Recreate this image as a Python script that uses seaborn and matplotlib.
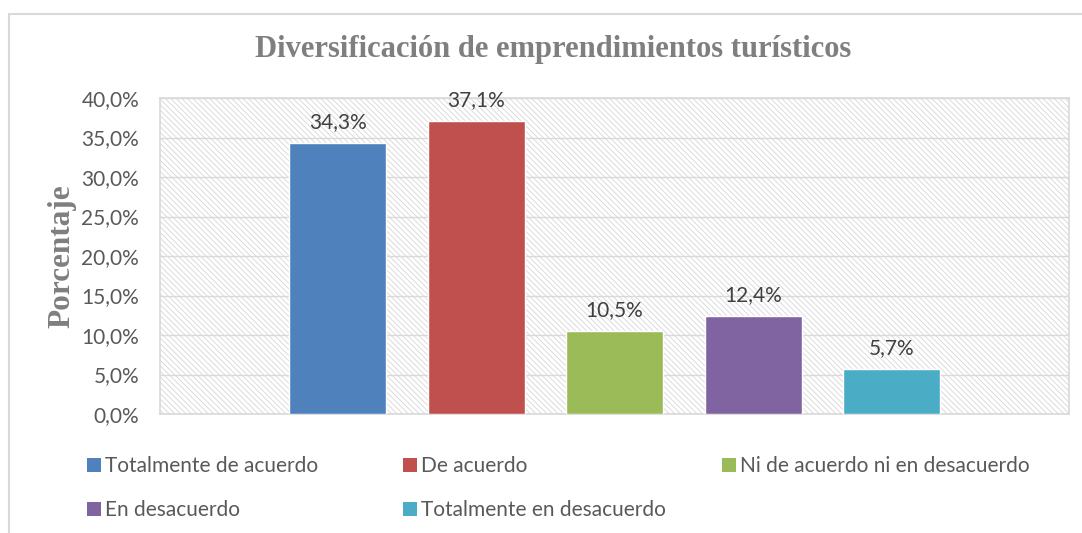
import matplotlib
matplotlib.use("Agg")
import matplotlib.pyplot as plt
import seaborn as sns
from matplotlib.patches import Patch, Rectangle
from matplotlib.ticker import FuncFormatter, MultipleLocator

# --- DATA ---
categories = ["Totalmente de acuerdo", "De acuerdo", "Ni de acuerdo ni en desacuerdo",
              "En desacuerdo", "Totalmente en desacuerdo"]
values = [34.3, 37.1, 10.5, 12.4, 5.7]
colors = ["#4F81BD", "#C0504D", "#9BBB59", "#8064A2", "#4BACC6"]
title = "Diversificación de emprendimientos turísticos"
ylabel = "Porcentaje"

# --- STYLE ---
sns.set_style("white")
plt.rcParams["font.family"] = ["Lato", "DejaVu Sans"]
plt.rcParams["hatch.color"] = "#d6d6d6"
plt.rcParams["hatch.linewidth"] = 0.6

W, H = 1082, 533
fig = plt.figure(figsize=(W / 100, H / 100), dpi=100)
ax = fig.add_axes([160 / W, 1 - 414 / H, (1069 - 160) / W, (414 - 98) / H])

# hatched plot area
ax.add_patch(Rectangle((0, 0), 1, 1, transform=ax.transAxes, facecolor="white",
                       edgecolor="#d6d6d6", hatch="\\" * 6, lw=0, zorder=0))

sns.barplot(x=categories, y=values, hue=categories, palette=colors, width=0.70,
            legend=False, ax=ax, zorder=3, saturation=1)

ax.set_xlim(-1.282, 5.28)
ax.set_ylim(0, 40)
ax.yaxis.set_major_locator(MultipleLocator(5))
ax.yaxis.set_major_formatter(FuncFormatter(lambda v, p: f"{v:.1f}%".replace(".", ",")))
ax.grid(axis="y", color="#d9d9d9", lw=1, zorder=1)
ax.set_axisbelow(False)
ax.set_xticks([])
ax.set_xlabel("")
ax.set_ylabel("")
ax.tick_params(axis="y", labelsize=15, labelcolor="#595959", length=0, pad=15)
for s in ax.spines.values():
    s.set_color("#d9d9d9")
    s.set_linewidth(1.2)

# data labels
for cont in ax.containers:
    ax.bar_label(cont, labels=[f"{b.get_height():.1f}%".replace(".", ",") for b in cont],
                 padding=8, fontsize=15, color="#404040")

# title + y label
fig.text(553 / W, 1 - 50 / H, title, ha="center", va="center", fontsize=22,
         fontweight="bold", color="#7f7f7f", family="Liberation Serif")
fig.text(62 / W, 1 - 256 / H, ylabel, ha="center", va="center", rotation=90,
         fontsize=22.5, fontweight="bold", color="#7f7f7f", family="Liberation Serif")

# outer chart frame
fig.add_artist(Rectangle((9 / W, -0.1), 1.2, 1.1 - 14 / H, transform=fig.transFigure,
                         fill=False, edgecolor="#d9d9d9", lw=1.5))

# legend, laid out in three columns like the original
handles = [Patch(facecolor=c, edgecolor="none") for c in colors]
columns = [([0, 3], 87), ([1, 4], 403), ([2], 722)]
for idx, xpos in columns:
    fig.legend([handles[i] for i in idx], [categories[i] for i in idx],
               loc="upper left", bbox_to_anchor=(xpos / W, 1 - 456 / H),
               frameon=False, fontsize=15, labelcolor="#595959", borderpad=0,
               borderaxespad=0, handlelength=0.65, handleheight=0.65,
               handletextpad=0.2, labelspacing=1.17)

fig.savefig("out.png", dpi=100)
